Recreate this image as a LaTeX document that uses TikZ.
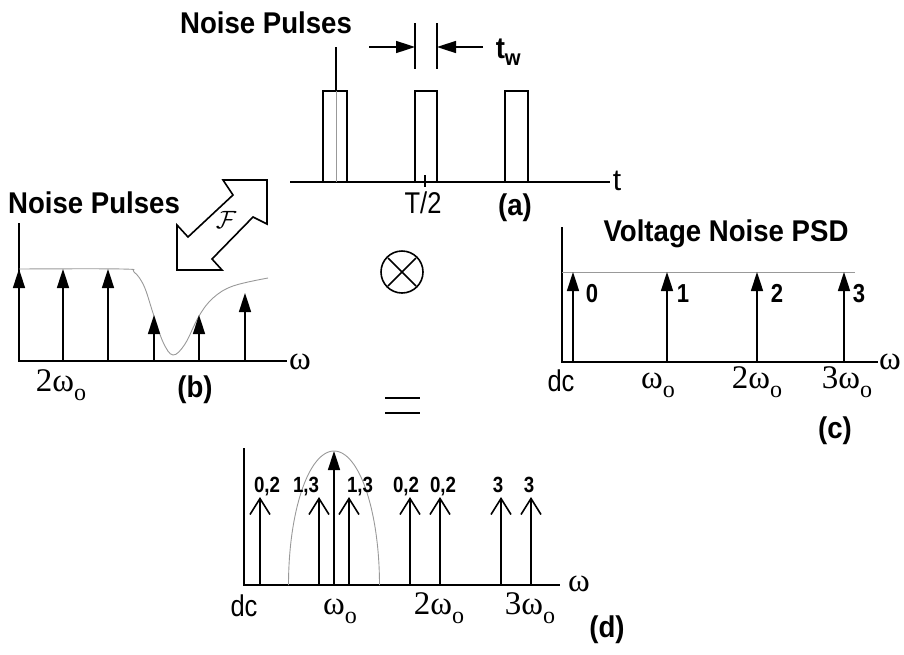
\documentclass[tikz,border=0pt]{standalone}
\usepackage{fix-cm}
\usepackage{fontspec}
\setmainfont{Liberation Sans}
\newfontfamily\serifw{Liberation Serif}
\usetikzlibrary{arrows.meta}
\newcommand{\wsub}{\raisebox{-0.3em}{\fontsize{24}{24}\selectfont o}}
\newcommand{\nw}[1]{\scalebox{0.92}[1]{#1}}
\newcommand{\nn}[1]{\scalebox{0.85}[1]{#1}}
\begin{document}
\begin{tikzpicture}[x=1pt,y=-1pt,line width=1.6pt,
  lbl/.style={font=\fontsize{30}{32}\selectfont\bfseries, inner sep=0pt},
  reg/.style={font=\fontsize{30}{32}\selectfont, inner sep=0pt},
  ser/.style={font=\serifw\fontsize{33}{35}\selectfont, inner sep=0pt},
  num/.style={font=\fontsize{26}{28}\selectfont\bfseries, inner sep=0pt},
  sml/.style={font=\fontsize{22}{24}\selectfont\bfseries, inner sep=0pt},
  fa/.style={-{Triangle[length=19pt,width=12pt]}},
  oa/.style={-{Straight Barb[length=16pt,width=20pt]}},
  guide/.style={draw=black!40, line width=0.9pt}]
\useasboundingbox (0,0) rectangle (904,654);

% ---------------- (a) pulses ----------------
\node[lbl, anchor=base] (npa) at (266,33) {\nw{Noise Pulses}};
\coordinate (a0) at (290,182); \coordinate (a1) at (610,182);
\draw (a0) -- (a1);
\draw (323,182) -- (323,91) -- (347,91) -- (347,182);
\draw (415,182) -- (415,91) -- (437,91) -- (437,182);
\draw (505,182) -- (505,91) -- (528,91) -- (528,182);
\coordinate (pp) at (336,47);
\draw (pp) -- (336,91);
\draw[guide] (336,91) -- (336,182);
\draw (415,23) -- (415,69);
\draw (437,23) -- (437,69);
\coordinate (twl) at (369,47); \coordinate (twr) at (483,47);
\draw[fa] (twl) -- (415,47);
\draw[fa] (twr) -- (437,47);
\node[lbl, anchor=base west] (tw) at (495,58) {\nw{t\raisebox{-0.25em}{\fontsize{22}{22}\selectfont w}}};
\node[reg, anchor=base] (tlab) at (617,190) {t};
\draw (425,175) -- (425,187);
\node[reg, anchor=base] (thalf) at (423,213) {\nn{T/2}};
\node[lbl, anchor=base] (la) at (515,215) {\nw{(a)}};

% ---------------- Fourier arrow ----------------
\draw[line width=1.6pt] (267,180) -- (267,224) -- (253,217) -- (212,259) -- (222,270)
  -- (177,270) -- (177,225) -- (188,237) -- (233,195) -- (223,180) -- cycle;
\node[inner sep=0pt] (F) at (226,220) {\fontsize{25}{25}\selectfont$\mathcal{F}$};

% ---------------- (b) ----------------
\node[lbl, anchor=base] (npb) at (94,213) {\nw{Noise Pulses}};
\draw (19,223) -- (19,361) -- (287,361);
\draw[guide] plot[smooth, tension=0.6] coordinates {(19,269) (122,269) (134,272) (144,286) (153,313) (163,342) (173,355) (185,344) (199,316) (213,298) (233,286) (268,278)};
\foreach \x/\t in {19/269, 63/269, 108/269, 154/315, 199/315, 245/293}
  \draw[fa] (\x,361) -- (\x,\t);
\node[ser] (wb) at (300,362) {ω};
\node[ser, anchor=base] (wob) at (61,391) {2ω\wsub};
\node[lbl, anchor=base] (lb) at (195,397) {\nw{(b)}};

% ---------------- otimes and equals ----------------
\node[circle, draw, minimum size=42pt, inner sep=0pt] (ot) at (402,272) {};
\draw (ot.center) ++(-14,-14) -- ++(28,28);
\draw (ot.center) ++(-14,14) -- ++(28,-28);
\draw[line width=1.4pt] (385,398) -- (420,398);
\draw[line width=1.4pt] (385,413) -- (420,413);

% ---------------- (c) ----------------
\node[lbl, anchor=base] (psd) at (726,241) {\nw{Voltage Noise PSD}};
\draw (562,227) -- (562,362) -- (878,362);
\draw[guide] (562,272) -- (855,272);
\foreach \x in {573,667,757,844}
  \draw[fa] (\x,362) -- (\x,272);
\node[num, anchor=base] (c0) at (592,302) {\nn{0}};
\node[num, anchor=base] (c1) at (683,302) {\nn{1}};
\node[num, anchor=base] (c2) at (777,302) {\nn{2}};
\node[num, anchor=base] (c3) at (859,302) {\nn{3}};
\node[ser] (wc) at (890,362) {ω};
\node[reg, anchor=base] (dcc) at (561,391) {\nn{dc}};
\node[ser, anchor=base] (w1c) at (658,388) {ω\wsub};
\node[ser, anchor=base] (w2c) at (757,388) {2ω\wsub};
\node[ser, anchor=base] (w3c) at (847,388) {3ω\wsub};
\node[lbl, anchor=base] (lc) at (835,438) {\nw{(c)}};

% ---------------- (d) ----------------
\draw (244,448) -- (244,585) -- (560,585);
\draw[guide] plot[domain=0:180, samples=80] ({334+45.5*cos(\x)}, {585-134*sin(\x)});
\draw[fa] (334,585) -- (334,451);
\foreach \x in {260,319,349,410,440,501,531}
  \draw[oa] (\x,585) -- (\x,497);
\foreach \x/\s in {267/{0,2}, 306/{1,3}, 360/{1,3}, 406/{0,2}, 443/{0,2}, 498/3, 529/3}
  \node[sml, anchor=base] at (\x,492) {\nn{\s}};
\node[ser] (wd) at (579,584) {ω};
\node[reg, anchor=base] (dcd) at (244,616) {\nn{dc}};
\node[ser, anchor=base] (w1d) at (340,614) {ω\wsub};
\node[ser, anchor=base] (w2d) at (439,614) {2ω\wsub};
\node[ser, anchor=base] (w3d) at (530,614) {3ω\wsub};
\node[lbl, anchor=base] (ld) at (607,637) {\nw{(d)}};
\end{tikzpicture}
\end{document}
